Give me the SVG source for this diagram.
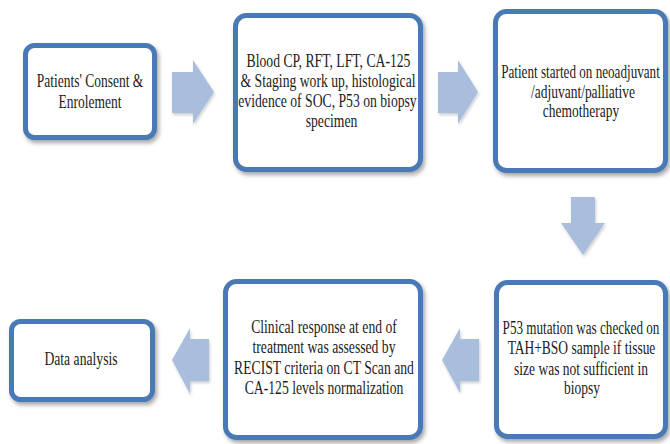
<svg xmlns="http://www.w3.org/2000/svg" width="670" height="444" viewBox="0 0 670 444">
<defs>
<filter id="sh" x="-10%" y="-10%" width="130%" height="130%">
<feDropShadow dx="2" dy="3" stdDeviation="2" flood-color="#000" flood-opacity="0.35"/>
</filter>
<filter id="ash" x="-20%" y="-20%" width="150%" height="150%">
<feDropShadow dx="1" dy="2" stdDeviation="1.5" flood-color="#000" flood-opacity="0.2"/>
</filter>
</defs>
<style>
.box{fill:#fff;stroke:#4a7ab6;stroke-width:5;filter:url(#sh)}
.arr{fill:#a9bedd;filter:url(#ash)}
.t text{text-anchor:middle}
</style>
<rect width="670" height="444" fill="#fff"/>
<g id="connectors">
<path class="arr" d="M172,72 H193 V60 L214,92 L193,124 V113 H172 Z"/>
<path class="arr" d="M438,72 H458 V60 L478,92 L458,124 V113 H438 Z"/>
<path class="arr" d="M571,197 H595 V223 H605 L583,255 L561,223 H571 Z"/>
<path class="arr" d="M479,339 H460 V328 L442,360 L460,393 V381 H479 Z"/>
<path class="arr" d="M209,339 H190 V328 L172,360 L190,394 V381 H209 Z"/>
</g>
<g class="t" font-family="'Liberation Serif', 'Times New Roman', serif" font-size="18" fill="#1c1c1c">
<g id="node1">
<rect class="box" x="25.5" y="45.5" width="129" height="92" rx="9"/>
<text transform="translate(90,87) scale(0.75,1)">Patients' Consent &amp;</text>
<text transform="translate(90,108) scale(0.75,1)">Enrolement</text>
</g>
<g id="node2">
<rect class="box" x="235.5" y="15.5" width="185" height="154" rx="11"/>
<text transform="translate(328.5,67) scale(0.76,1)">Blood CP, RFT, LFT, CA-125</text>
<text transform="translate(328,87) scale(0.76,1)">&amp; Staging work up, histological</text>
<text transform="translate(327.5,107) scale(0.76,1)">evidence of SOC, P53 on biopsy</text>
<text transform="translate(331.5,127) scale(0.76,1)">specimen</text>
</g>
<g id="node3">
<rect class="box" x="495.5" y="11.5" width="170" height="159" rx="11"/>
<text transform="translate(580.5,78) scale(0.73,1)">Patient started on neoadjuvant</text>
<text transform="translate(583,98) scale(0.75,1)">/adjuvant/palliative</text>
<text transform="translate(581,117) scale(0.75,1)">chemotherapy</text>
</g>
<g id="node4">
<rect class="box" x="496.5" y="282.5" width="169" height="154" rx="11"/>
<text transform="translate(581,334) scale(0.73,1)">P53 mutation was checked on</text>
<text transform="translate(581.5,354) scale(0.75,1)">TAH+BSO sample if tissue</text>
<text transform="translate(581,375) scale(0.75,1)">size was not sufficient in</text>
<text transform="translate(582,394) scale(0.75,1)">biopsy</text>
</g>
<g id="node5">
<rect class="box" x="225.5" y="281.5" width="195" height="156" rx="11"/>
<text transform="translate(324,333) scale(0.76,1)">Clinical response at end of</text>
<text transform="translate(324,353) scale(0.76,1)">treatment was assessed by</text>
<text transform="translate(324,374) scale(0.76,1)">RECIST criteria on CT Scan and</text>
<text transform="translate(324,394) scale(0.76,1)">CA-125 levels normalization</text>
</g>
<g id="node6">
<rect class="box" x="11.5" y="321.5" width="141" height="78" rx="9"/>
<text transform="translate(81,365) scale(0.76,1)">Data analysis</text>
</g>
</g>
</svg>
